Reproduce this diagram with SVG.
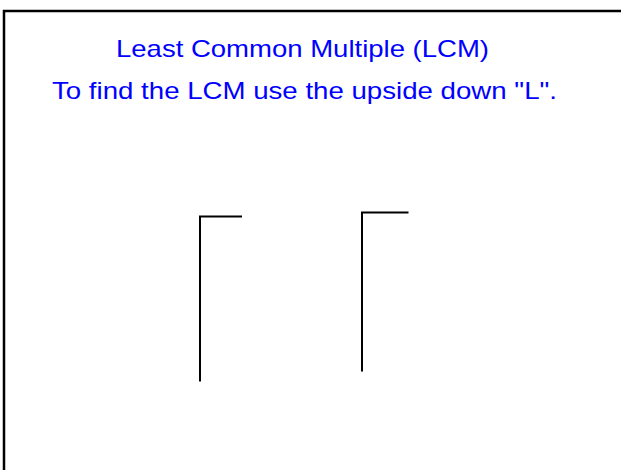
<svg xmlns="http://www.w3.org/2000/svg" width="621" height="470" viewBox="0 0 621 470">
  <style>
    .title { font-family: "Liberation Sans", Arial, sans-serif; font-size: 24px; fill: #0000ff; }
    .frame { fill: none; stroke: #000; stroke-width: 2.5; }
    .ell { fill: none; stroke: #000; stroke-width: 2; }
  </style>
  <rect width="621" height="470" fill="#fff"/>
  <!-- page frame, running off the right and bottom edges -->
  <rect class="frame" x="4" y="11" width="640" height="480"/>
  <g id="heading">
    <text class="title" x="116" y="56.5" textLength="373" lengthAdjust="spacingAndGlyphs">Least Common Multiple (LCM)</text>
    <text class="title" x="52" y="99" textLength="505" lengthAdjust="spacingAndGlyphs">To find the LCM use the upside down "L".</text>
  </g>
  <g id="ell-left">
    <polyline class="ell" points="200,381.5 200,216.5 242,216.5"/>
  </g>
  <g id="ell-right">
    <polyline class="ell" points="362,371.5 362,212.5 408.5,212.5"/>
  </g>
</svg>
